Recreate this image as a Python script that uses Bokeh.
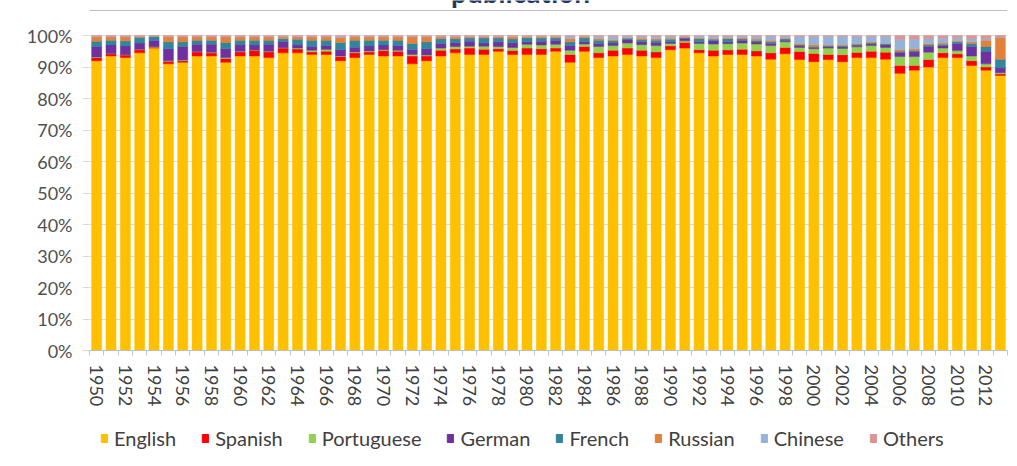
from bokeh.plotting import figure
from bokeh.layouts import column
from bokeh.models import (ColumnDataSource, FixedTicker, Legend, LegendItem,
                          Range1d, Span)
from bokeh.core.properties import value
from bokeh.embed import file_html
from bokeh.resources import INLINE

# ---------------- data ----------------
years = list(range(1950, 2014))
languages = ["English", "Spanish", "Portuguese", "German", "French", "Russian", "Chinese", "Others"]
colors = ["#FFC000", "#FF0000", "#92D050", "#7030A0", "#31859C", "#E4803A", "#95B3D7", "#D99694"]

english = [92, 93.5, 93, 94.5, 96, 91, 91.5, 93.5, 93.5, 91.5,
           93.5, 93.5, 93, 94.5, 94.5, 94, 94, 92, 93, 94,
           93.5, 93.5, 91, 92, 93.5, 94.5, 94, 94, 95, 94,
           94, 94, 95, 91.5, 95, 93, 93.5, 94, 93.5, 93,
           95.5, 96, 94.5, 93.5, 94, 94, 93.5, 92.5, 94.2, 92.4,
           91.7, 92.4, 91.7, 93, 93, 92.5, 88, 89, 90, 93,
           93, 90.5, 89, 87.3]
spanish = [1.0, 0.7, 0.8, 1.0, 0.3, 0.8, 0.5, 1.3, 1.0, 1.2,
           1.3, 1.8, 1.8, 1.5, 1.2, 0.8, 1.0, 1.3, 1.5, 0.8,
           1.7, 1.5, 2.5, 1.5, 1.8, 1.2, 2.0, 1.6, 0.8, 1.2,
           2.0, 1.8, 1.0, 2.5, 1.5, 1.5, 1.8, 2.0, 1.8, 1.8,
           1.2, 1.8, 1.0, 1.8, 1.4, 1.6, 1.6, 2.0, 2.0, 2.5,
           2.6, 1.6, 2.2, 1.6, 2.0, 2.2, 2.5, 1.5, 2.4, 1.5,
           1.2, 1.5, 1.0, 0.5]
portuguese = [0.2, 0.1, 0.1, 0.1, 0.1, 0.2, 0.2, 0.1, 0.2, 0.3,
              0.2, 0.1, 0.2, 0.1, 0.3, 0.5, 0.6, 0.2, 0.3, 0.3,
              0.3, 0.3, 0.5, 0.3, 0.7, 0.8, 0.6, 1.0, 0.7, 1.0,
              1.2, 1.2, 1.2, 1.3, 0.8, 2.0, 1.5, 1.6, 1.8, 2.0,
              0.8, 0.5, 2.0, 2.0, 2.0, 2.0, 2.2, 2.3, 1.8, 1.3,
              1.5, 2.0, 2.0, 1.8, 1.8, 1.5, 2.8, 2.8, 2.3, 1.5,
              1.0, 1.5, 1.0, 0.4]
german = [3.3, 2.7, 2.8, 2.0, 2.0, 3.8, 4.3, 2.3, 2.5, 2.8,
          2.0, 1.6, 2.2, 2.0, 1.0, 1.2, 1.2, 2.0, 1.5, 1.6,
          1.5, 1.5, 1.5, 2.0, 1.5, 1.2, 1.6, 1.0, 1.5, 1.5,
          0.8, 1.2, 1.2, 1.5, 0.7, 1.0, 0.8, 1.0, 0.9, 1.0,
          0.5, 0.8, 0.5, 1.0, 0.6, 0.8, 0.6, 0.7, 0.5, 0.5,
          0.4, 0.4, 0.5, 0.5, 0.5, 0.8, 1.3, 1.5, 1.8, 0.8,
          2.2, 3.0, 4.0, 1.5]
french = [1.7, 1.5, 1.6, 1.8, 1.2, 2.2, 1.5, 1.3, 1.3, 2.0,
          1.5, 1.5, 1.3, 0.9, 1.8, 2.0, 1.7, 2.3, 2.2, 1.8,
          1.5, 1.7, 2.0, 2.2, 1.5, 1.3, 1.0, 1.6, 1.2, 1.2,
          1.3, 1.0, 0.8, 1.2, 1.2, 1.0, 0.7, 0.5, 0.6, 0.7,
          0.8, 0.2, 1.0, 0.5, 1.0, 0.5, 0.5, 0.5, 0.4, 0.3,
          0.3, 0.3, 0.3, 0.3, 0.3, 0.3, 0.4, 0.4, 0.5, 0.4,
          0.6, 1.0, 1.5, 2.8]
russian = [1.3, 1.0, 1.2, 0.3, 0.2, 1.5, 1.5, 1.0, 1.0, 1.7,
           1.0, 1.0, 1.0, 0.5, 0.7, 1.0, 1.0, 1.6, 1.0, 1.0,
           1.0, 1.0, 2.0, 1.5, 0.5, 0.5, 0.3, 0.3, 0.3, 0.6,
           0.2, 0.3, 0.3, 1.0, 0.3, 0.5, 0.4, 0.2, 0.5, 0.5,
           0.3, 0.2, 0.2, 0.2, 0.2, 0.3, 0.5, 0.5, 0.2, 0.5,
           0.6, 0.3, 0.3, 0.3, 0.4, 0.2, 0.5, 0.6, 0.5, 0.4,
           0.3, 0.5, 2.0, 6.8]
chinese = [0.2, 0.2, 0.2, 0.1, 0.1, 0.2, 0.2, 0.2, 0.2, 0.2,
           0.2, 0.2, 0.2, 0.2, 0.2, 0.2, 0.2, 0.3, 0.2, 0.2,
           0.2, 0.2, 0.2, 0.2, 0.2, 0.2, 0.2, 0.2, 0.2, 0.2,
           0.2, 0.2, 0.2, 0.7, 0.2, 0.7, 1.0, 0.4, 0.6, 0.7,
           0.6, 0.2, 0.5, 0.7, 0.5, 0.5, 0.8, 1.2, 0.6, 2.2,
           2.6, 2.7, 2.7, 2.2, 1.7, 2.2, 3.2, 3.0, 1.5, 1.5,
           1.0, 1.0, 0.5, 0.2]
others = [0.3, 0.3, 0.3, 0.2, 0.1, 0.3, 0.3, 0.3, 0.3, 0.3,
          0.3, 0.3, 0.3, 0.3, 0.3, 0.3, 0.3, 0.3, 0.3, 0.3,
          0.3, 0.3, 0.3, 0.3, 0.3, 0.3, 0.3, 0.3, 0.3, 0.3,
          0.3, 0.3, 0.3, 0.3, 0.3, 0.3, 0.3, 0.3, 0.3, 0.3,
          0.3, 0.3, 0.3, 0.3, 0.3, 0.3, 0.3, 0.3, 0.3, 0.3,
          0.3, 0.3, 0.3, 0.3, 0.3, 0.3, 1.3, 1.2, 1.0, 0.9,
          0.7, 1.0, 1.0, 0.5]

y_ticks = [0, 10, 20, 30, 40, 50, 60, 70, 80, 90, 100]
y_tick_labels = ["0%", "10%", "20%", "30%", "40%", "50%", "60%", "70%", "80%", "90%", "100%"]
x_label_years = years[::2]
x_tick_labels = [str(y) for y in x_label_years]
title_text = "publication"

# ---------------- main chart ----------------
source = ColumnDataSource(data=dict(year=years, English=english, Spanish=spanish,
                                    Portuguese=portuguese, German=german, French=french,
                                    Russian=russian, Chinese=chinese, Others=others))

FONT = "Lato"
W = 1017
H1 = 414                 # chart figure height
FRAME_BOTTOM_PX = 350    # 0% line
PX_PER_PCT = 3.15        # 100% sits 35 px below the canvas top
Y_TOP = 100 + 35 / PX_PER_PCT

p = figure(width=W, height=H1, output_backend="svg", toolbar_location=None,
           x_range=Range1d(1949.5, 2013.5), y_range=Range1d(0, Y_TOP),
           min_border_left=89, min_border_right=10, min_border_top=0,
           min_border_bottom=H1 - FRAME_BOTTOM_PX)
p.outline_line_color = None
p.background_fill_color = "white"
p.border_fill_color = "white"

renderers = p.vbar_stack(languages, x="year", width=0.7, color=colors,
                         line_color=colors, line_width=0.5, source=source)

p.xgrid.visible = False
p.ygrid.ticker = FixedTicker(ticks=y_ticks)
p.ygrid.grid_line_color = "#D9D9D9"
p.ygrid.grid_line_width = 1

ya = p.yaxis[0]
ya.ticker = FixedTicker(ticks=y_ticks)
ya.major_label_overrides = {t: l for t, l in zip(y_ticks, y_tick_labels)}
ya.axis_line_color = None
ya.major_tick_line_color = "#D9D9D9"
ya.major_tick_out = 7
ya.major_tick_in = 0
ya.minor_tick_line_color = None
ya.major_label_standoff = 10
ya.major_label_text_font = FONT
ya.major_label_text_font_size = "18px"
ya.major_label_text_color = "#505050"

xa = p.xaxis[0]
xa.ticker = FixedTicker(ticks=x_label_years, minor_ticks=[y - 0.5 for y in years] + [years[-1] + 0.5])
xa.major_label_overrides = {t: l for t, l in zip(x_label_years, x_tick_labels)}
xa.axis_line_color = "#BFBFBF"
xa.major_tick_out = 0
xa.major_tick_in = 0
xa.minor_tick_out = 5
xa.minor_tick_in = 0
xa.minor_tick_line_color = "#B8C4D6"
xa.major_label_orientation = "vertical"
xa.major_label_standoff = 9
xa.major_label_text_font = FONT
xa.major_label_text_font_size = "18px"
xa.major_label_text_color = "#404040"

# top border line of the chart area
p.add_layout(Span(location=100 + 25 / PX_PER_PCT, dimension="width",
                  line_color="#BFBFBF", line_width=1))

# title: only its lower part is visible at the top edge (rest falls above the canvas)
p.text(x=[1979.55], y=[100 + 44 / PX_PER_PCT], text=[title_text], text_align="center",
       text_baseline="alphabetic", text_font=value(FONT), text_font_style="bold",
       text_font_size="28px", text_color="#1F3864")

# ---------------- legend strip ----------------
H2 = 52
lg = figure(width=W, height=H2, output_backend="svg", toolbar_location=None,
            x_range=Range1d(0, 1), y_range=Range1d(0, 1),
            x_axis_location=None, y_axis_location=None,
            min_border_left=0, min_border_right=0, min_border_top=0, min_border_bottom=0)
lg.grid.visible = False
lg.outline_line_color = None
# same stacked series, kept hidden here: they only provide the legend swatches
swatches = lg.vbar_stack(languages, x="year", width=0.7, color=colors, source=source)
for r in swatches:
    r.visible = False
items = [LegendItem(label=lang, renderers=[r]) for lang, r in zip(languages, swatches)]
legend = Legend(items=items, orientation="horizontal", location=(11, 16),
                label_text_font=FONT, label_text_font_size="20px", label_text_color="#404040",
                glyph_width=8, glyph_height=10, label_standoff=6, spacing=25,
                padding=0, margin=0, border_line_color=None, background_fill_alpha=0,
                inactive_fill_alpha=0)
lg.add_layout(legend)

page = column(p, lg, spacing=0)
open("out.html", "w").write(file_html(page, INLINE))
